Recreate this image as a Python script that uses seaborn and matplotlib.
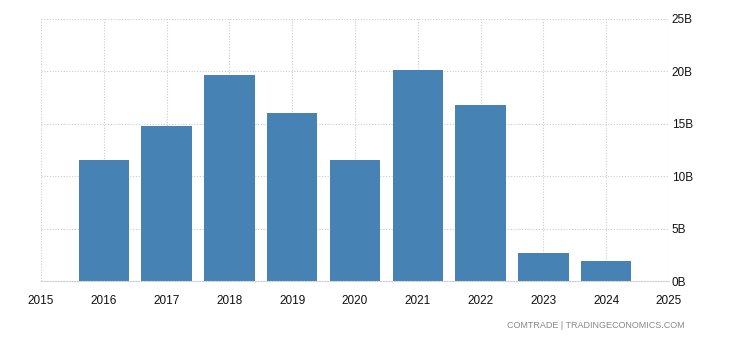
import matplotlib
matplotlib.use("Agg")
import matplotlib.pyplot as plt
import seaborn as sns
import pandas as pd

years = [2016, 2017, 2018, 2019, 2020, 2021, 2022, 2023, 2024]
values_b = [11.55, 14.8, 19.65, 16.0, 11.55, 20.1, 16.8, 2.67, 1.9]
x_ticks = list(range(2015, 2026))
y_ticks = [0, 5, 10, 15, 20, 25]
y_labels = ["0B", "5B", "10B", "15B", "20B", "25B"]
source = "COMTRADE | TRADINGECONOMICS.COM"

df = pd.DataFrame({"year": years, "value": values_b})

sns.set_theme(style="white")
plt.rcParams["font.family"] = ["Liberation Sans", "DejaVu Sans"]

fig = plt.figure(figsize=(7.3, 3.4), dpi=100)
ax = fig.add_axes([41/730, 1-281/340, (669-41)/730, (281-19)/340])

sns.barplot(data=df, x="year", y="value", native_scale=True, color="#4682B4",
            saturation=1, width=0.8, ax=ax, edgecolor="none", linewidth=0)

ax.set_xlim(2015, 2025)
ax.set_ylim(0, 25)
ax.set_xticks(x_ticks)
ax.set_xticklabels([str(t) for t in x_ticks])
ax.set_yticks(y_ticks)
ax.set_yticklabels(y_labels)
ax.yaxis.tick_right()
ax.tick_params(axis="y", length=0, pad=2, labelsize=8.5, colors="#111111")
ax.tick_params(axis="x", length=4, width=0.8, color="#cccccc", pad=6, labelsize=8.5, colors="#111111")
ax.set_xlabel("")
ax.set_ylabel("")
ax.grid(True, color="#cccccc", linestyle=(0, (1, 1.5)), linewidth=0.8)
ax.set_axisbelow(True)
for s in ["top", "left", "right"]:
    ax.spines[s].set_visible(False)
ax.spines["bottom"].set_color("#cccccc")
ax.spines["bottom"].set_linestyle((0, (1, 1.5)))
ax.spines["bottom"].set_linewidth(0.8)

fig.text(685/730, 1-326/340, source, ha="right", va="center", fontsize=6.5, color="#888888")

fig.savefig("out.png", dpi=100)
